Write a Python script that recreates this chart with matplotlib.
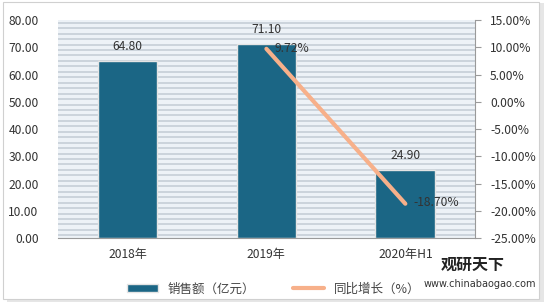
import matplotlib
matplotlib.use("Agg")
import matplotlib.pyplot as plt
import numpy as np
from matplotlib.patches import Rectangle

plt.rcParams['font.family'] = ['Noto Sans CJK SC', 'DejaVu Sans']

# data
categories = ['2018年', '2019年', '2020年H1']
sales = [64.80, 71.10, 24.90]
growth_x = [1, 2]
growth = [9.72, -18.70]
bar_name = '销售额（亿元）'
line_name = '同比增长（%）'

bar_color = '#1b6685'
line_color = '#f7b08a'
text_color = '#333333'

fig = plt.figure(figsize=(5.47, 3.08), dpi=100)
fig.patch.set_facecolor('white')

# outer frame with soft shadow
fig.patches.append(Rectangle((0.012, 0.018), 0.982, 0.972, transform=fig.transFigure,
                             facecolor='#e6e6e6', edgecolor='none', zorder=-3))
fig.patches.append(Rectangle((0.006, 0.03), 0.98, 0.965, transform=fig.transFigure,
                             facecolor='white', edgecolor='#d0d0d0', lw=0.8, zorder=-2))

ax = fig.add_axes([0.106, 0.227, 0.762, 0.708])
ax.set_facecolor('#edf2f7')

x = np.arange(len(categories))
ax.set_xlim(-0.5, len(categories) - 0.5)
ax.set_ylim(0, 80)

# striped background
for yy in np.arange(1.0, 80, 2.0):
    ax.axhline(yy, color='#c3ccd5', lw=1.1, zorder=0)

bars = ax.bar(x, sales, width=0.43, color=bar_color, edgecolor='#e4e4e4', lw=1, zorder=2,
              label=bar_name)
for xi, v in zip(x, sales):
    ax.text(xi, v + 3, f'{v:.2f}', ha='center', va='bottom', fontsize=8.7, color=text_color)

ax.set_yticks(np.arange(0, 81, 10))
ax.set_yticklabels([f'{v:.2f}' for v in np.arange(0, 81, 10)], fontsize=8.7, color=text_color)
ax.set_xticks(x)
ax.set_xticklabels(categories, fontsize=8.7, color=text_color)
ax.tick_params(axis='y', length=0, pad=14)
ax.tick_params(axis='x', length=0, pad=7)
for s in ['top', 'left', 'right']:
    ax.spines[s].set_visible(False)
ax.spines['bottom'].set_color('#9a9a9a')

ax2 = ax.twinx()
ax2.set_ylim(-25, 15)
line, = ax2.plot(growth_x, growth, color=line_color, lw=3, solid_capstyle='round', zorder=3,
                 label=line_name)
ax2.text(growth_x[0] + 0.06, growth[0], f'{growth[0]:.2f}%', ha='left', va='center',
         fontsize=8.7, color=text_color)
ax2.text(growth_x[1] + 0.06, growth[1] + 0.3, f'{growth[1]:.2f}%', ha='left', va='center',
         fontsize=8.7, color=text_color)
ticks2 = np.arange(-25, 16, 5)
ax2.set_yticks(ticks2)
ax2.set_yticklabels([f'{v:.2f}%' for v in ticks2], fontsize=8.7, color=text_color)
ax2.tick_params(axis='y', length=4, color='#9a9a9a', pad=7)
for s in ['top', 'left', 'bottom']:
    ax2.spines[s].set_visible(False)
ax2.spines['right'].set_color('#9a9a9a')

leg = fig.legend(handles=[bars, line], loc='center', bbox_to_anchor=(0.5, 0.062), ncol=2,
                 frameon=False, fontsize=9, handlelength=2.5, columnspacing=3,
                 labelcolor='#444444')

# watermark
fig.text(0.805, 0.14, '观研天下', fontsize=11.5, fontweight='bold', color='#222222',
         ha='left', va='center')
fig.text(0.775, 0.078, 'www.chinabaogao.com', fontsize=7, color='#333333',
         ha='left', va='center', family='DejaVu Sans')

fig.savefig('out.png', dpi=100)
